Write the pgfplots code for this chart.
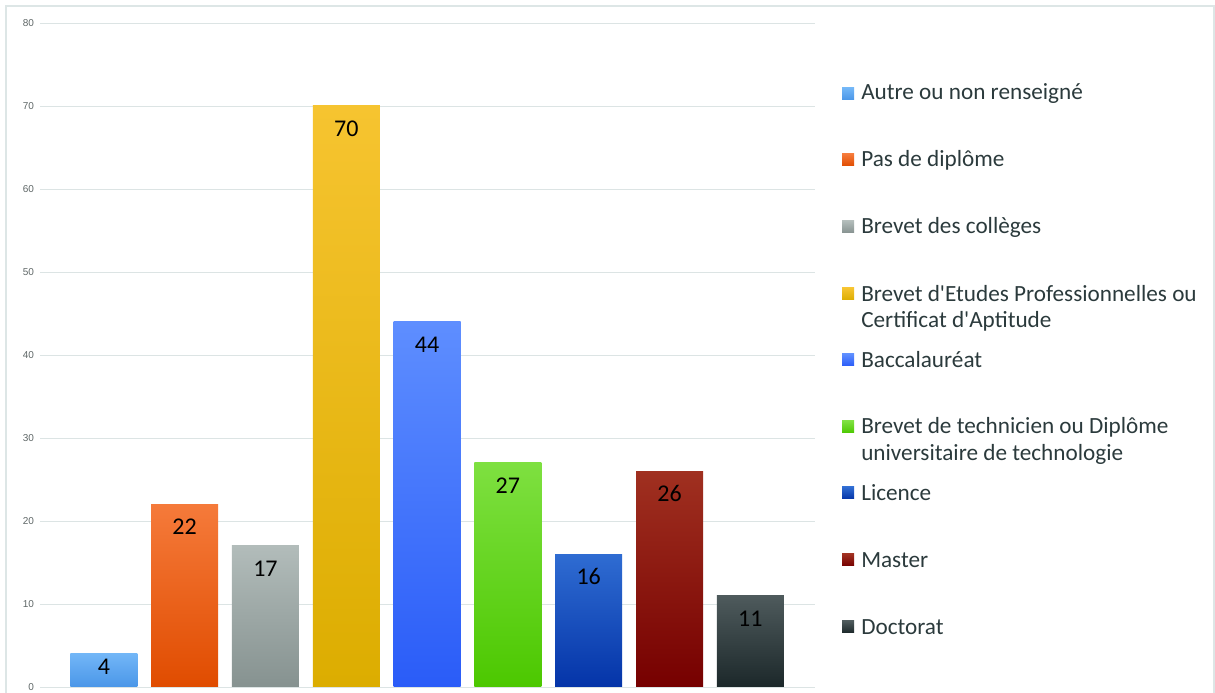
\documentclass[border=0pt]{standalone}
\usepackage{pgfplots}
\pgfplotsset{compat=1.18}
\usepackage{fontspec}
\setmainfont{Carlito}
\newfontfamily\tickfont{Liberation Sans}
\definecolor{framec}{HTML}{DDE6E6}
\definecolor{gridc}{HTML}{DCE4E4}
\definecolor{tickc}{HTML}{5E6666}
\definecolor{legtext}{HTML}{2B3A3C}
\definecolor{c1t}{HTML}{72B6F7}\definecolor{c1b}{HTML}{4A96E8}
\definecolor{c2t}{HTML}{F57A3A}\definecolor{c2b}{HTML}{E04C00}
\definecolor{c3t}{HTML}{B2BCBA}\definecolor{c3b}{HTML}{869290}
\definecolor{c4t}{HTML}{F6C430}\definecolor{c4b}{HTML}{DCAD00}
\definecolor{c5t}{HTML}{5E8EFF}\definecolor{c5b}{HTML}{2A5CF8}
\definecolor{c6t}{HTML}{7EE040}\definecolor{c6b}{HTML}{4CC800}
\definecolor{c7t}{HTML}{2F6CD2}\definecolor{c7b}{HTML}{0434A8}
\definecolor{c8t}{HTML}{A03020}\definecolor{c8b}{HTML}{760000}
\definecolor{c9t}{HTML}{4E5A5C}\definecolor{c9b}{HTML}{1C282A}
\begin{document}
\begin{tikzpicture}
\useasboundingbox (0,0) rectangle (911.25pt,519.75pt);
\draw[framec, line width=0.8pt] (4.5pt,0) -- (4.5pt,515.25pt) -- (910.5pt,515.25pt) -- (910.5pt,0);
\begin{axis}[at={(30pt,4.5pt)}, anchor=south west, scale only axis,
  width=581.25pt, height=498pt,
  xmin=-0.79, xmax=8.8, ymin=0, ymax=80,
  ytick={0,10,...,80}, xtick=\empty,
  ymajorgrids, grid style={gridc, line width=0.7pt},
  axis line style={draw=none}, major tick length=0pt,
  yticklabel style={font=\tickfont\fontsize{7.5}{8}\selectfont, text=tickc, xshift=-1pt},
  /pgf/number format/assume math mode=true,
  ybar, bar width=50.25pt, bar shift=0pt,
  nodes near coords,
  every node near coord/.append style={anchor=center, yshift=-17pt, font=\fontsize{18}{21}\selectfont, text=black},
  clip=false]
\addplot[draw=none, top color=c1t, bottom color=c1b, every node near coord/.append style={yshift=7pt}] coordinates {(0,4)};
\addplot[draw=none, top color=c2t, bottom color=c2b] coordinates {(1,22)};
\addplot[draw=none, top color=c3t, bottom color=c3b] coordinates {(2,17)};
\addplot[draw=none, top color=c4t, bottom color=c4b] coordinates {(3,70)};
\addplot[draw=none, top color=c5t, bottom color=c5b] coordinates {(4,44)};
\addplot[draw=none, top color=c6t, bottom color=c6b] coordinates {(5,27)};
\addplot[draw=none, top color=c7t, bottom color=c7b] coordinates {(6,16)};
\addplot[draw=none, top color=c8t, bottom color=c8b] coordinates {(7,26)};
\addplot[draw=none, top color=c9t, bottom color=c9b] coordinates {(8,11)};
\end{axis}
% legend
\def\lx{631.5pt}
\def\tx{645.75pt}
\foreach \yy/\ct/\cb/\txt in {94/c1t/c1b/{Autre ou non renseigné}, 160/c2t/c2b/{Pas de diplôme}, 227/c3t/c3b/{Brevet des collèges}, 294/c4t/c4b/{Brevet d\textquotesingle Etudes Professionnelles ou}, 360/c5t/c5b/{Baccalauréat}, 427/c6t/c6b/{Brevet de technicien ou Diplôme}, 493/c7t/c7b/{Licence}, 560/c8t/c8b/{Master}, 627/c9t/c9b/{Doctorat}}{
  \pgfmathsetmacro{\yp}{(693-\yy)*0.75}
  \shade[top color=\ct, bottom color=\cb] (\lx,\yp pt-4.5pt) rectangle ++(9pt,9pt);
  \node[anchor=west, inner sep=0pt, text=legtext, font=\fontsize{17.4}{20}\selectfont] at (\tx,\yp pt) {\txt};
}
\foreach \yy/\txt in {321/{Certificat d\textquotesingle Aptitude}, 454/{universitaire de technologie}}{
  \pgfmathsetmacro{\yp}{(693-\yy)*0.75}
  \node[anchor=west, inner sep=0pt, text=legtext, font=\fontsize{17.4}{20}\selectfont] at (\tx,\yp pt) {\txt};
}
\end{tikzpicture}
\end{document}
